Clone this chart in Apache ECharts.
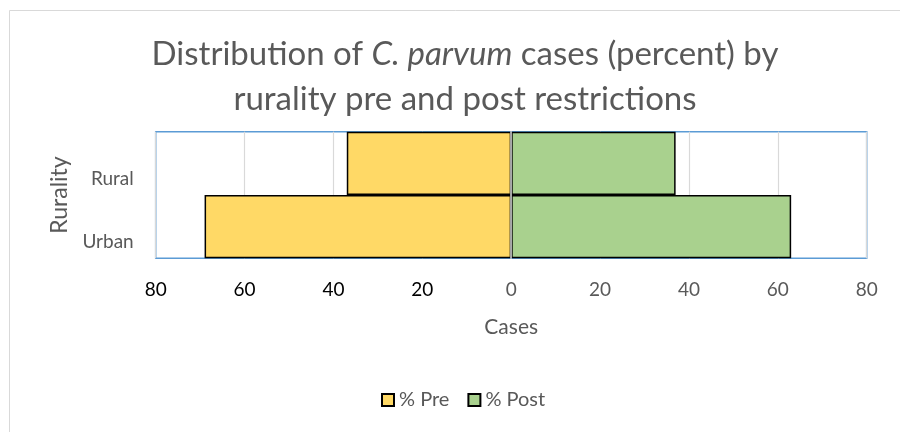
<!DOCTYPE html>
<html><head><meta charset="utf-8">
<script src="https://cdn.jsdelivr.net/npm/echarts@6/dist/echarts.min.js"></script>
<style>html,body{margin:0;padding:0;background:#fff}#c{width:900px;height:432px}</style>
</head><body><div id="c"></div>
<script>
const categories = ['Urban', 'Rural'];
const preValues = [69, 37];
const postValues = [63, 37];
const seriesNames = ['% Pre', '% Post'];

const F = 'Lato, "Open Sans", sans-serif';
const chart = echarts.init(document.getElementById('c'));
chart.setOption({
  backgroundColor: '#fff',
  animation: false,
  graphic: [{type:'rect', shape:{x:9.5,y:10.5,width:1000,height:1000}, style:{fill:'none',stroke:'#d9d9d9',lineWidth:1}, z:-1}],
  title: {
    text: '{n|Distribution of }{i|C. parvum}{n| cases (percent) by}\n{n|rurality pre and post restrictions}',
    left: 460, textAlign: 'center', top: 27,
    textStyle: {
      fontWeight: 'normal',
      rich: {
        n: {fontFamily: F, fontSize: 33, fontWeight: 'normal', color: '#595959', lineHeight: 45},
        i: {fontFamily: F, fontSize: 33, fontWeight: 'normal', color: '#595959', fontStyle: 'italic', lineHeight: 45}
      }
    }
  },
  legend: {
    bottom: 17, left: 376, itemWidth: 12, itemHeight: 12, itemGap: 18,
    icon: 'rect',
    textStyle: {fontFamily: F, fontSize: 20, color: '#595959'},
    data: seriesNames
  },
  grid: {left: 155.7, right: 33.3, top: 131.7, height: 126.6, show: true, borderColor: '#5B9BD5', borderWidth: 1.5},
  xAxis: {
    type: 'value', min: -80, max: 80, interval: 20,
    name: 'Cases', nameLocation: 'middle', nameGap: 58,
    nameTextStyle: {fontFamily: F, fontSize: 21, color: '#595959'},
    axisLine: {show: false}, axisTick: {show: false},
    splitLine: {lineStyle: {color: '#d9d9d9', width: 1.2}},
    axisLabel: {
      margin: 22,
      formatter: v => (v < 0 ? '{b|' + Math.abs(v) + '}' : '{g|' + v + '}'),
      rich: {
        b: {fontFamily: F, fontSize: 19, color: '#000'},
        g: {fontFamily: F, fontSize: 19, color: '#595959'}
      }
    }
  },
  yAxis: {
    type: 'category', data: categories, z: 10,
    name: 'Rurality', nameLocation: 'middle', nameGap: 8, nameRotate: 90,
    nameTextStyle: {fontFamily: F, fontSize: 23, color: '#595959'},
    axisLine: {show: true, onZero: true, lineStyle: {color: '#d9d9d9', width: 1.5}},
    axisTick: {show: false},
    axisLabel: {fontFamily: F, fontSize: 19, color: '#595959', margin: 22, verticalAlign: 'top', padding: [6, 0, 0, 0]},
    splitLine: {show: false}
  },
  series: [
    {name: seriesNames[0], type: 'bar', stack: 'a', barCategoryGap: 0,
     data: preValues.map(v => -v),
     itemStyle: {color: '#FFD966', borderColor: '#000', borderWidth: 1.5}},
    {name: seriesNames[1], type: 'bar', stack: 'a', barCategoryGap: 0,
     data: postValues,
     itemStyle: {color: '#A9D18E', borderColor: '#000', borderWidth: 1.5}}
  ]
});
</script></body></html>
